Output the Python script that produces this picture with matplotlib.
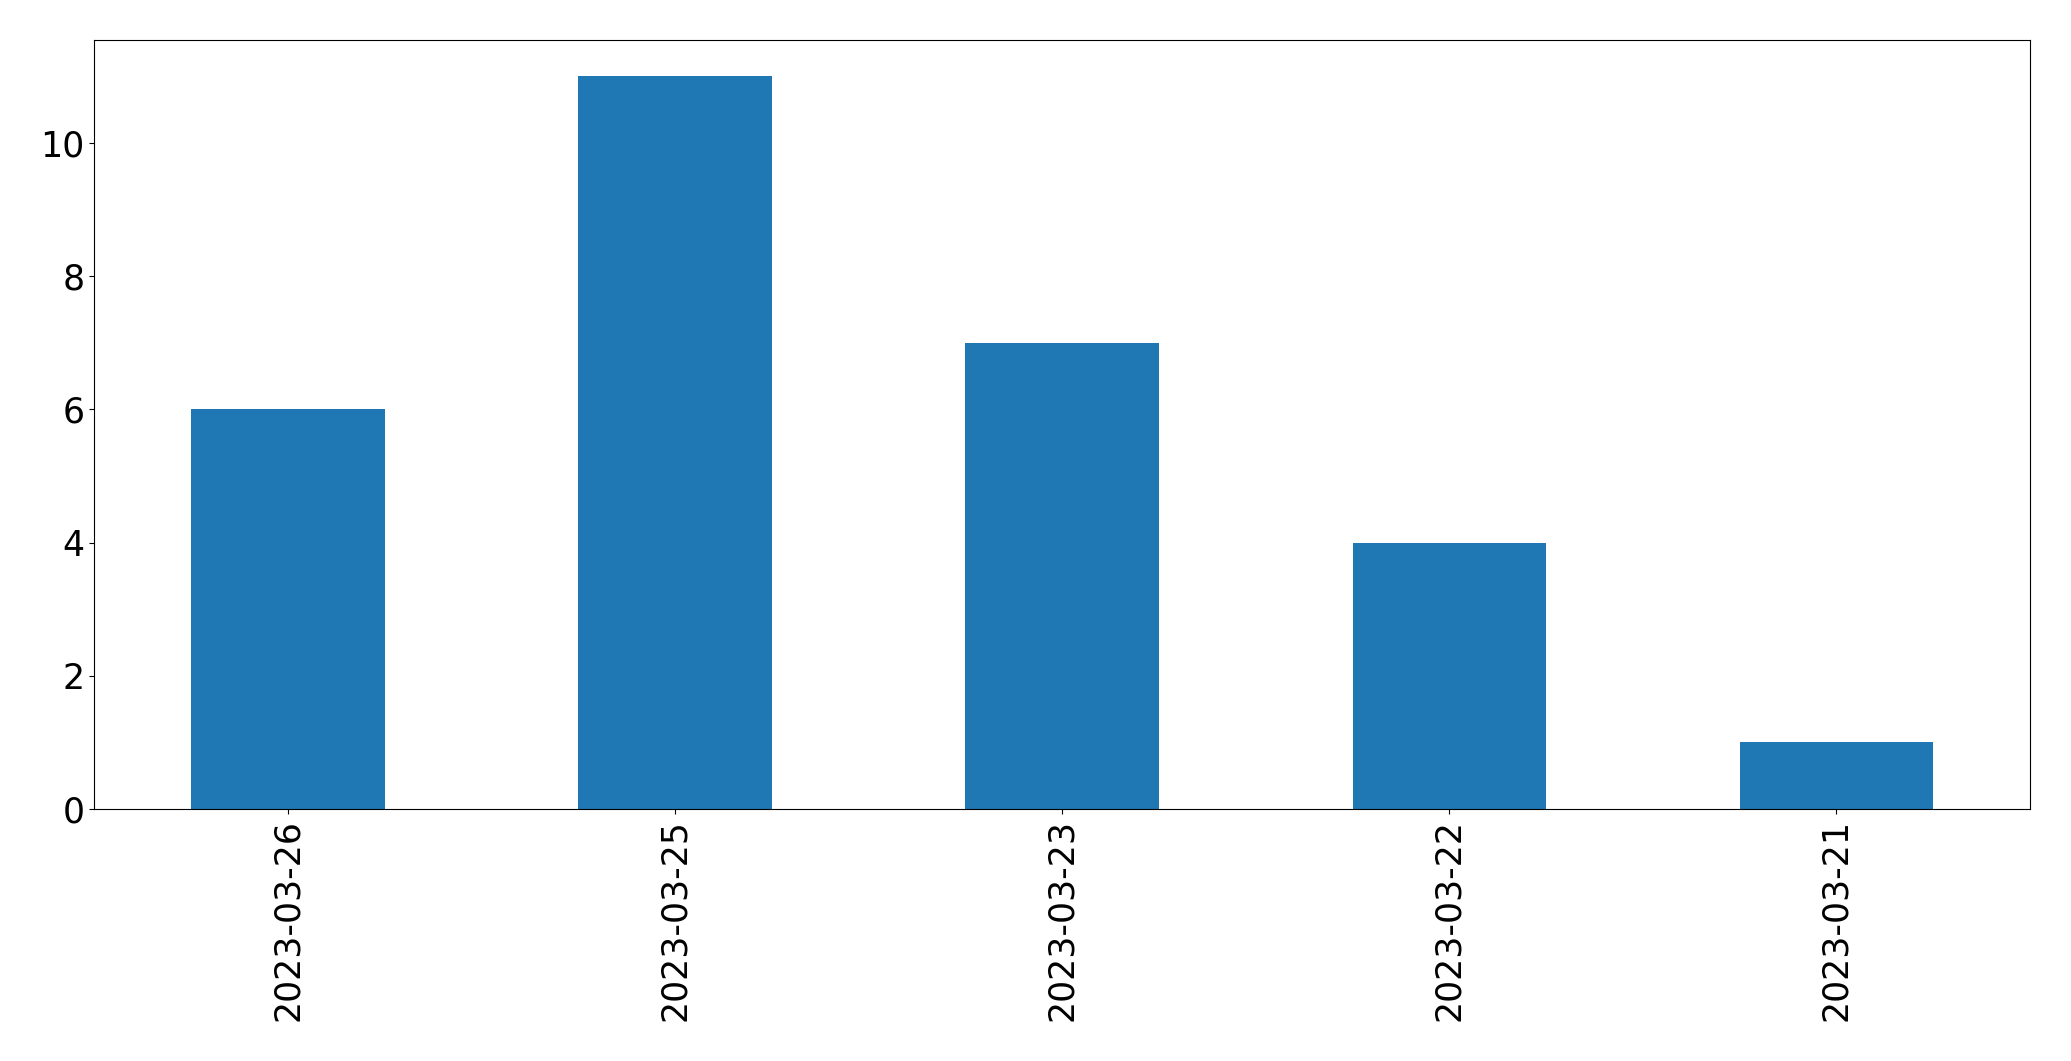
import matplotlib
matplotlib.use("Agg")
import matplotlib.pyplot as plt
import pandas as pd

dates = ["2023-03-26", "2023-03-25", "2023-03-23", "2023-03-22", "2023-03-21"]
counts = [6, 11, 7, 4, 1]

fig = plt.figure(figsize=(20.71, 10.61), dpi=100)
ax = fig.add_axes([94.3 / 2071, 1 - 809 / 1061, (2030 - 94.3) / 2071, (809 - 39.6) / 1061])
s = pd.Series(counts, index=dates)
s.plot.bar(ax=ax, color="#1f77b4", fontsize=25)
ax.tick_params(axis="x", labelrotation=90)
fig.savefig("out.png", dpi=100)
